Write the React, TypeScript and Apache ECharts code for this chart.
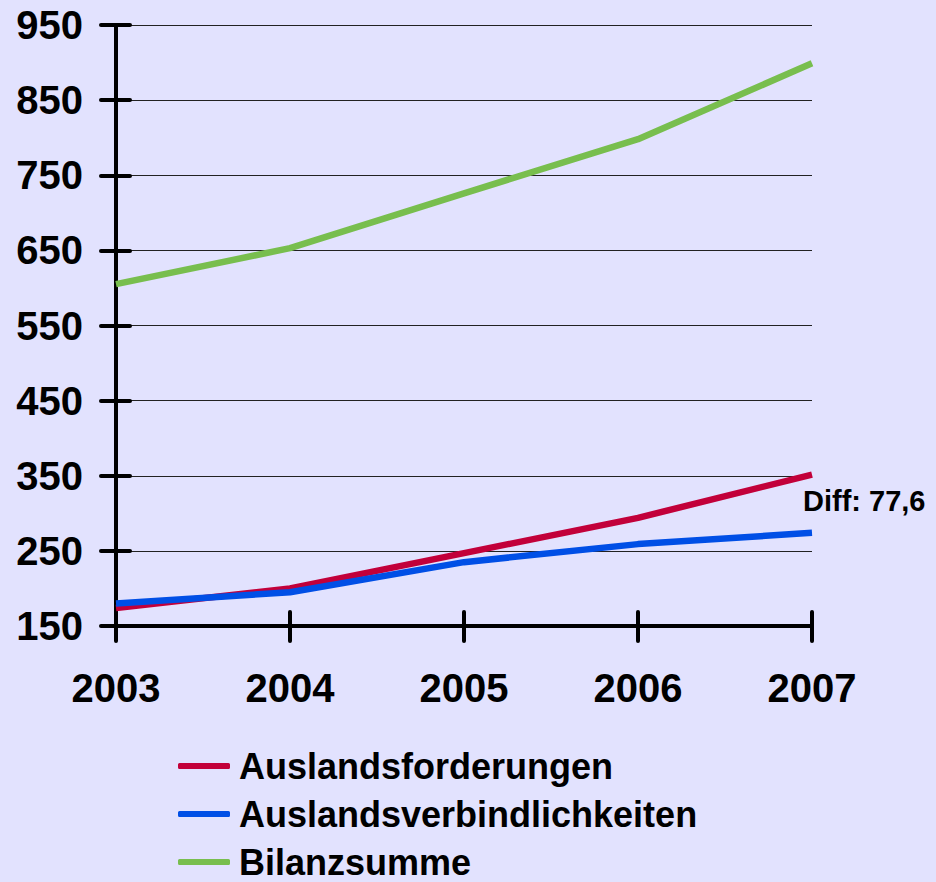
import React, { useEffect, useRef } from "react";
import * as echarts from "echarts";

const years = ["2003", "2004", "2005", "2006", "2007"];
const auslandsforderungen = [174, 200, 247, 294, 351.6];
const auslandsverbindlichkeiten = [180, 195, 235, 259, 274.0];
const bilanzsumme = [605, 653, 726, 798, 899];
const yMin = 150;
const yMax = 950;
const yStep = 100;

const FONT = "'Liberation Sans', Arial, sans-serif";

export default function App() {
  const ref = useRef<HTMLDivElement>(null);
  useEffect(() => {
    if (!ref.current) return;
    const chart = echarts.init(ref.current, undefined, { renderer: "svg" });
    const diff = (auslandsforderungen[4] - auslandsverbindlichkeiten[4]).toFixed(1).replace(".", ",");
    const lineSeries = (name: string, data: number[], color: string) => ({
      name,
      type: "line",
      data,
      showSymbol: false,
      symbol: "none",
      lineStyle: { color, width: 6.5 },
      itemStyle: { color },
      z: 5,
    });
    chart.setOption({
      animation: false,
      backgroundColor: "#E2E2FE",
      textStyle: { fontFamily: FONT },
      grid: { left: 116, right: 124, top: 25, bottom: 256, containLabel: false },
      xAxis: [
        {
          type: "category",
          data: years,
          boundaryGap: false,
          axisLine: { show: true, lineStyle: { color: "#000", width: 4, cap: "round" } },
          axisTick: { show: true, alignWithLabel: true, length: 15, lineStyle: { color: "#000", width: 4, cap: "round" } },
          axisLabel: { color: "#000", fontSize: 40, fontWeight: "bold", fontFamily: FONT, margin: 42 },
          splitLine: { show: false },
        },
        {
          type: "category",
          data: years,
          boundaryGap: false,
          position: "bottom",
          axisLine: { show: false },
          axisTick: { show: true, inside: true, length: 14, lineStyle: { color: "#000", width: 4, cap: "round" } },
          axisLabel: { show: false },
          splitLine: { show: false },
        },
      ],
      yAxis: [
        {
          type: "value",
          min: yMin,
          max: yMax,
          interval: yStep,
          axisLine: { show: true, lineStyle: { color: "#000", width: 4, cap: "round" } },
          axisTick: { show: true, length: 15, lineStyle: { color: "#000", width: 4, cap: "round" } },
          axisLabel: { color: "#000", fontSize: 40, fontWeight: "bold", fontFamily: FONT, margin: 33 },
          splitLine: { show: true, lineStyle: { color: "#222", width: 1.2 } },
        },
        {
          type: "value",
          min: yMin,
          max: yMax,
          interval: yStep,
          position: "left",
          axisLine: { show: false },
          axisTick: { show: true, inside: true, length: 14, lineStyle: { color: "#000", width: 4, cap: "round" } },
          axisLabel: { show: false },
          splitLine: { show: false },
        },
      ],
      legend: {
        orient: "vertical",
        left: 178,
        top: 748,
        padding: 0,
        itemGap: 12,
        itemWidth: 52,
        itemHeight: 6,
        icon: "roundRect",
        selectedMode: false,
        textStyle: { color: "#000", fontSize: 36, lineHeight: 36, fontWeight: "bold", fontFamily: FONT, padding: [0, 0, 0, 4] },
        data: ["Auslandsforderungen", "Auslandsverbindlichkeiten", "Bilanzsumme"],
      },
      graphic: [
        {
          type: "text",
          left: 803,
          top: 486,
          style: { text: "Diff: " + diff, fill: "#000", font: "bold 29px " + FONT },
        },
      ],
      series: [
        lineSeries("Auslandsforderungen", auslandsforderungen, "#C2003A"),
        lineSeries("Auslandsverbindlichkeiten", auslandsverbindlichkeiten, "#004FE6"),
        lineSeries("Bilanzsumme", bilanzsumme, "#78BE4E"),
      ],
    });
    return () => chart.dispose();
  }, []);
  return <div ref={ref} style={{ width: 936, height: 882, position: "absolute", left: 0, top: 0 }} />;
}
